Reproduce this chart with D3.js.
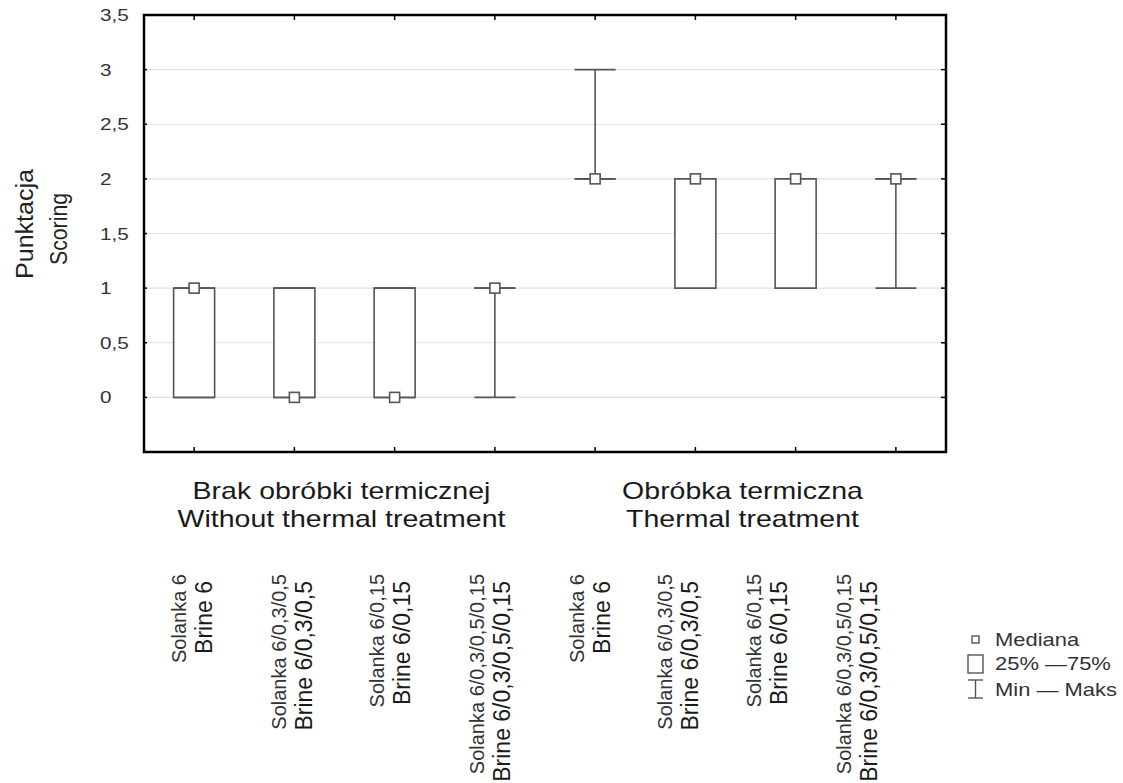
<!DOCTYPE html>
<html>
<head>
<meta charset="utf-8">
<script src="https://cdn.jsdelivr.net/npm/d3@7"></script>
<style>
  html, body { margin: 0; padding: 0; background: #fff; }
  svg { display: block; }
  text { font-family: "Liberation Sans", Arial, sans-serif; fill: #222; }
</style>
</head>
<body>
<svg id="chart" width="1123" height="783"></svg>
<script>
// ---- data ----
const namesPl = ["Solanka 6", "Solanka 6/0,3/0,5", "Solanka 6/0,15", "Solanka 6/0,3/0,5/0,15",
                 "Solanka 6", "Solanka 6/0,3/0,5", "Solanka 6/0,15", "Solanka 6/0,3/0,5/0,15"];
const namesEn = ["Brine 6", "Brine 6/0,3/0,5", "Brine 6/0,15", "Brine 6/0,3/0,5/0,15",
                 "Brine 6", "Brine 6/0,3/0,5", "Brine 6/0,15", "Brine 6/0,3/0,5/0,15"];
const groupPl = ["Brak obróbki termicznej", "Obróbka termiczna"];
const groupEn = ["Without thermal treatment", "Thermal treatment"];
const groupOf = [0, 0, 0, 0, 1, 1, 1, 1];

const minVals = [0, 0, 0, 0, 2, 1, 1, 1];
const q1Vals  = [0, 0, 0, 1, 2, 1, 1, 2];
const medVals = [1, 0, 0, 1, 2, 2, 2, 2];
const q3Vals  = [1, 1, 1, 1, 2, 2, 2, 2];
const maxVals = [1, 1, 1, 1, 3, 2, 2, 2];

const yTicks = [0, 0.5, 1, 1.5, 2, 2.5, 3, 3.5];
const legendLabels = ["Mediana", "25% \u201475%", "Min \u2014 Maks"];
const axisTitle = ["Punktacja", "Scoring"];

// ---- layout ----
const frame = { left: 144, right: 946, top: 15, bottom: 452 };
const boxW = 41;
const medSize = 10;
const stroke = "#555";
const sx = 1.22;                       // horizontal glyph stretch of the plot's font
const labelBaseX = [186, 286, 384, 484, 584, 672, 761, 851];  // rotated name labels

const svg = d3.select("#chart");
const idx = d3.range(namesPl.length);

const x = d3.scaleBand().domain(idx).range([frame.left, frame.right]).padding(0);
const y = d3.scaleLinear().domain([-0.5, 3.5]).range([frame.bottom, frame.top]);
const cx = i => x(i) + x.bandwidth() / 2;
const fmt = v => String(v).replace(".", ",");

// grid lines
svg.append("g").selectAll("line").data(yTicks.filter(v => v < 3.5)).join("line")
  .attr("x1", frame.left).attr("x2", frame.right)
  .attr("y1", d => y(d)).attr("y2", d => y(d))
  .attr("stroke", "#e2e2e2").attr("stroke-width", 1.2);

// whiskers
const wg = svg.append("g").attr("stroke", stroke).attr("stroke-width", 1.6).attr("fill", "none");
idx.forEach(i => {
  const c = cx(i);
  wg.append("line").attr("x1", c).attr("x2", c).attr("y1", y(minVals[i])).attr("y2", y(maxVals[i]));
  [minVals[i], maxVals[i]].forEach(v => {
    wg.append("line").attr("x1", c - boxW / 2).attr("x2", c + boxW / 2)
      .attr("y1", y(v)).attr("y2", y(v));
  });
});

// boxes (drawn as paths so a collapsed quartile range still shows as a line)
svg.append("g").selectAll("path").data(idx).join("path")
  .attr("d", i => {
    const x0 = cx(i) - boxW / 2, x1 = cx(i) + boxW / 2;
    return `M${x0},${y(q3Vals[i])}H${x1}V${y(q1Vals[i])}H${x0}Z`;
  })
  .attr("fill", "#fff").attr("stroke", stroke).attr("stroke-width", 1.6);

// medians
svg.append("g").selectAll("rect").data(idx).join("rect")
  .attr("x", i => cx(i) - medSize / 2).attr("y", i => y(medVals[i]) - medSize / 2)
  .attr("width", medSize).attr("height", medSize)
  .attr("fill", "#fff").attr("stroke", stroke).attr("stroke-width", 1.6);

// frame and inner ticks
const fg = svg.append("g").attr("stroke", "#000");
fg.append("rect")
  .attr("x", frame.left).attr("y", frame.top)
  .attr("width", frame.right - frame.left).attr("height", frame.bottom - frame.top)
  .attr("fill", "none").attr("stroke-width", 2.5);
idx.forEach(i => {
  fg.append("line").attr("x1", cx(i)).attr("x2", cx(i)).attr("y1", frame.top).attr("y2", frame.top + 5).attr("stroke-width", 1.5);
  fg.append("line").attr("x1", cx(i)).attr("x2", cx(i)).attr("y1", frame.bottom).attr("y2", frame.bottom - 5).attr("stroke-width", 1.5);
});
yTicks.forEach(v => {
  fg.append("line").attr("x1", frame.right).attr("x2", frame.right - 5).attr("y1", y(v)).attr("y2", y(v)).attr("stroke-width", 1.5);
  fg.append("line").attr("x1", frame.left).attr("x2", frame.left + 3).attr("y1", y(v)).attr("y2", y(v)).attr("stroke-width", 1.5);
});

// y tick labels
svg.append("g").selectAll("text").data(yTicks).join("text")
  .attr("transform", d => `translate(100,${y(d)}) scale(${sx},1)`)
  .attr("dy", "0.36em").attr("font-size", 17).style("fill", "#333")
  .text(fmt);

// y axis title
svg.append("text")
  .attr("transform", "translate(33,224) rotate(-90)")
  .attr("text-anchor", "middle").attr("font-size", 23)
  .attr("textLength", 110).attr("lengthAdjust", "spacingAndGlyphs")
  .text(axisTitle[0]);
svg.append("text")
  .attr("transform", "translate(67,229) rotate(-90)")
  .attr("text-anchor", "middle").attr("font-size", 23)
  .attr("textLength", 72).attr("lengthAdjust", "spacingAndGlyphs")
  .text(axisTitle[1]);

// group labels
groupPl.forEach((g, k) => {
  const members = idx.filter(i => groupOf[i] === k);
  const gx = d3.mean(members, cx);
  svg.append("text")
    .attr("transform", `translate(${gx - 3},499) scale(1.24,1)`)
    .attr("text-anchor", "middle").attr("font-size", 23).style("fill", "#1a1a1a")
    .text(g);
  svg.append("text")
    .attr("transform", `translate(${gx - 3},527) scale(1.24,1)`)
    .attr("text-anchor", "middle").attr("font-size", 23).style("fill", "#1a1a1a")
    .text(groupEn[k]);
});

// rotated category names
const ng = svg.append("g");
idx.forEach(i => {
  ng.append("text")
    .attr("transform", `translate(${labelBaseX[i]},574) rotate(-90)`)
    .attr("text-anchor", "end").attr("font-size", 20).style("fill", "#333")
    .text(namesPl[i]);
  ng.append("text")
    .attr("transform", `translate(${labelBaseX[i] + 26},581) rotate(-90)`)
    .attr("text-anchor", "end").attr("font-size", 23).style("fill", "#1a1a1a")
    .text(namesEn[i]);
});

// legend
const lg = svg.append("g");
const lx = 975.5;
const rowY = [645.5, 670, 695.5];
lg.append("rect").attr("x", lx - 3.5).attr("y", 636).attr("width", 7).attr("height", 7)
  .attr("fill", "#fff").attr("stroke", stroke).attr("stroke-width", 1.4);
lg.append("rect").attr("x", lx - 7.5).attr("y", 655).attr("width", 15).attr("height", 18)
  .attr("fill", "#fff").attr("stroke", stroke).attr("stroke-width", 1.4);
lg.append("line").attr("x1", lx).attr("x2", lx).attr("y1", 680).attr("y2", 698).attr("stroke", stroke).attr("stroke-width", 1.4);
[680, 698].forEach(yy => lg.append("line").attr("x1", lx - 7.5).attr("x2", lx + 7.5)
  .attr("y1", yy).attr("y2", yy).attr("stroke", stroke).attr("stroke-width", 1.4));
lg.selectAll("text").data(legendLabels).join("text")
  .attr("transform", (d, k) => `translate(995,${rowY[k]}) scale(${sx},1)`)
  .attr("font-size", 18).style("fill", "#333")
  .text(d => d);
</script>
</body>
</html>
